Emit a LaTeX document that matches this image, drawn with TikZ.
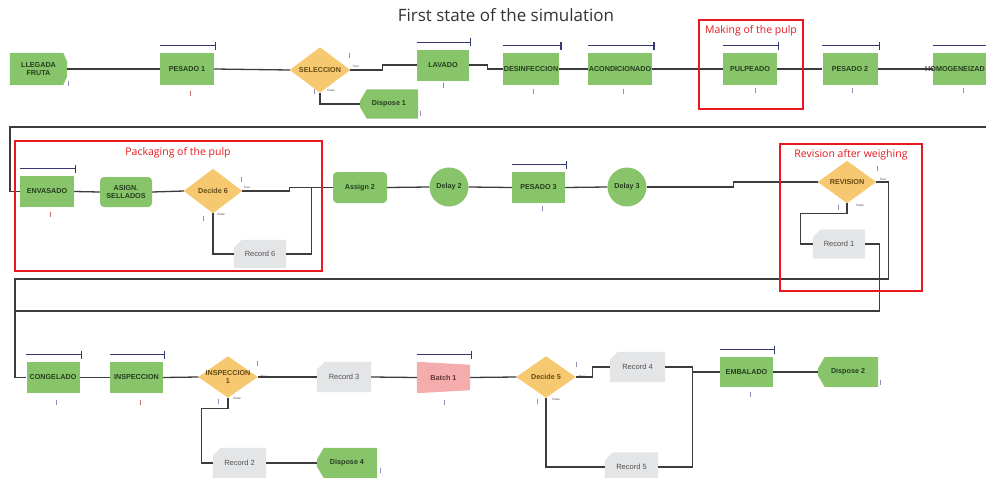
\documentclass[tikz,border=0pt]{standalone}
\usepackage{fontspec}
\setmainfont{Liberation Sans}
\newfontfamily\titlefont{Open Sans}
\usetikzlibrary{shapes.geometric,backgrounds,calc}
\definecolor{agreen}{RGB}{136,196,106}
\definecolor{gtext}{RGB}{36,62,30}
\definecolor{aorange}{RGB}{246,200,112}
\definecolor{otext}{RGB}{100,74,20}
\definecolor{agray}{RGB}{228,229,231}
\definecolor{rtext}{RGB}{80,80,80}
\definecolor{apink}{RGB}{245,172,172}
\definecolor{ptext}{RGB}{95,50,50}
\definecolor{cgray}{RGB}{60,60,62}
\definecolor{qnavy}{RGB}{52,56,112}
\definecolor{redc}{RGB}{230,25,30}
\definecolor{mkpurple}{RGB}{150,140,185}
\definecolor{mkred}{RGB}{200,110,110}
\newcommand\mkcreate[1]{\fill[agreen] (#1.north west) -- ([xshift=-4pt]#1.north east) -- ([yshift=-9pt]#1.north east) -- ([yshift=9pt]#1.south east) -- ([xshift=-4pt]#1.south east) -- (#1.south west) -- cycle;}
\newcommand\mkdispose[1]{\fill[agreen] ([xshift=7pt]#1.north west) -- (#1.north east) -- (#1.south east) -- ([xshift=7pt]#1.south west) -- ([yshift=12pt]#1.south west) -- ([yshift=-12pt]#1.north west) -- cycle;}
\newcommand\mkrecord[1]{\fill[agray] ([xshift=8pt]#1.north west) -- (#1.north east) -- (#1.south east) -- (#1.south west) -- ([yshift=-8pt]#1.north west) -- cycle;}
\newcommand\mkbatch[1]{\fill[apink] (#1.north west) -- ([yshift=-3pt]#1.north east) -- ([yshift=3pt]#1.south east) -- (#1.south west) -- cycle;}
\newcommand\mkdiamond[1]{\fill[aorange] (#1.north) -- (#1.east) -- (#1.south) -- (#1.west) -- cycle;}
\tikzset{
  base/.style={inner sep=1pt, font=\bfseries\fontsize{7.2}{8}\selectfont, align=center},
  rbase/.style={inner sep=1pt, font=\fontsize{7.5}{8}\selectfont, align=center},
  proc/.style={base, rectangle, fill=agreen, text=gtext, minimum width=53pt, minimum height=31pt},
  shell/.style={base, rectangle, minimum width=53pt, minimum height=31pt},
  recshell/.style={rbase, rectangle, text=rtext, minimum width=53pt, minimum height=30pt},
  assignbox/.style={base, rectangle, rounded corners=4pt, fill=agreen, text=gtext, minimum width=53pt, minimum height=31pt},
  delaybox/.style={base, circle, fill=agreen, text=gtext, minimum size=39pt, inner sep=0pt},
  decide/.style={base, rectangle, text=otext, minimum width=59pt, minimum height=43pt, inner sep=0pt},
  conn/.style={draw=cgray, line width=1.3pt},
  qline/.style={draw=qnavy, line width=1.2pt},
  redbox/.style={draw=redc, line width=1.6pt},
  redlabel/.style={font=\titlefont\fontsize{10.5}{12}\selectfont, text=redc, inner sep=0pt},
  tf/.style={font=\fontsize{3}{3}\selectfont, text=black!75, inner sep=0pt},
  mk/.style={draw=mkpurple, line width=0.7pt},
  mkr/.style={draw=mkred, line width=0.7pt}
}
\begin{document}
\begin{tikzpicture}[x=1pt,y=-1pt]
\useasboundingbox (0,0) rectangle (986,477);
\clip (0,0) rectangle (986,477);

\node[font=\titlefont\fontsize{17}{19}\selectfont, text=black!80] (title) at (506,15) {First state of the simulation};

% ---------- row 1 ----------
\node[shell, text=gtext, minimum width=57pt, minimum height=32pt] (arr) at (38.5,69) {LLEGADA\\FRUTA};
\node[proc, minimum width=54pt, minimum height=32pt] (p1) at (187,69) {PESADO 1};
\node[decide, minimum width=60pt, minimum height=45pt] (sel) at (320,70) {SELECCION};
\node[proc, minimum width=52pt] (lav) at (443,65) {LAVADO};
\node[shell, text=gtext, minimum width=58pt, minimum height=29pt] (d1) at (389,104) {Dispose 1};
\node[proc, minimum height=32pt] (des) at (531,69) {DESINFECCION};
\node[proc, minimum height=32pt] (aco) at (620,69) {ACONDICIONADO};
\node[proc, minimum width=54pt, minimum height=32pt] (pul) at (750,69) {PULPEADO};
\node[proc, minimum width=55pt, minimum height=32pt] (pe2) at (850,69) {PESADO 2};
\node[proc, minimum width=54pt, minimum height=32pt] (hom) at (960,69) {};
\node[base, text=gtext, anchor=east] (homt) at (986,69) {HOMOGENEIZAD};

% ---------- row 2 ----------
\node[proc, minimum width=54pt] (env) at (47,191.5) {ENVASADO};
\node[assignbox, minimum width=52pt, minimum height=30pt] (asg) at (126,192) {ASIGN.\\SELLADOS};
\node[decide, minimum width=58pt, minimum height=44pt] (dec6) at (213,191) {Decide 6};
\node[recshell, minimum width=52pt, minimum height=28pt] (rec6) at (260,254) {Record 6};
\node[assignbox, minimum width=54pt] (as2) at (360,187.5) {Assign 2};
\node[delaybox] (dl2) at (449,187) {Delay 2};
\node[proc] (pe3) at (538.5,187.5) {PESADO 3};
\node[delaybox] (dl3) at (627,187) {Delay 3};
\node[decide, minimum width=58pt, minimum height=42pt] (rev) at (847,182) {REVISION};
\node[recshell, minimum width=52pt, minimum height=29pt] (rec1) at (839,244) {Record 1};

% ---------- row 3 ----------
\node[proc] (cong) at (53,377.5) {CONGELADO};
\node[proc] (insp) at (136.5,377.5) {INSPECCION};
\node[decide, minimum height=41pt] (ins1) at (228,377) {INSPECCION\\1};
\node[recshell, minimum width=54pt] (rec3) at (344,377) {Record 3};
\node[shell, text=ptext] (bat) at (443.5,377.5) {Batch 1};
\node[decide, minimum height=41pt] (dec5) at (546,377) {Decide 5};
\node[recshell, minimum width=55pt] (rec4) at (637.5,367) {Record 4};
\node[recshell, minimum height=29pt] (rec5) at (631.5,467) {Record 5};
\node[proc, minimum height=30pt] (emb) at (746.5,372) {EMBALADO};
\node[shell, text=gtext, minimum width=60pt, minimum height=30pt] (d2) at (848,372) {Dispose 2};
\node[recshell] (rec2) at (239.5,463) {Record 2};
\node[shell, text=gtext, minimum width=60pt, minimum height=30pt] (d4) at (347,463) {Dispose 4};

% ---------- custom shapes ----------
\begin{scope}[on background layer]
\fill[white] (0,0) rectangle (986,477);
\mkcreate{arr}
\mkdispose{d1}
\mkdispose{d2}
\mkdispose{d4}
\mkrecord{rec6}
\mkrecord{rec1}
\mkrecord{rec3}
\mkrecord{rec4}
\mkrecord{rec5}
\mkrecord{rec2}
\mkbatch{bat}
\mkdiamond{sel}
\mkdiamond{dec6}
\mkdiamond{rev}
\mkdiamond{ins1}
\mkdiamond{dec5}
\end{scope}

% ---------- queue bars ----------
\foreach \n in {p1,lav,des,aco,pul,pe2,hom,env,pe3,cong,insp,bat,emb}
  \draw[qline] ([yshift=7pt]\n.north west) -- ([yshift=7pt,xshift=1.5pt]\n.north east) ++(0,-4) -- ++(0,8);

% ---------- connectors ----------
\coordinate (lp1) at (10,127);
\coordinate (lp2) at (15,279);
\coordinate (lp3) at (15,311);
\draw[conn] (arr.east) -- (p1.west);
\draw[conn] (p1.east) -- (sel.west);
\draw[conn] (sel.east) -- ++(32,0) |- (lav.west);
\draw[conn] (sel.south) |- (d1.west);
\draw[conn] (lav.east) -- ++(18,0) |- (des.west);
\draw[conn] (des.east) -- (aco.west);
\draw[conn] (aco.east) -- (pul.west);
\draw[conn] (pul.east) -- (pe2.west);
\draw[conn] (pe2.east) -- (hom.west);
\draw[conn] (hom.east) -- ++(10,0) |- (lp1) |- (env.west);

\draw[conn] (env.east) -- (asg.west);
\draw[conn] (asg.east) -- (dec6.west);
\draw[conn] (dec6.east) -- ++(47,0) |- (as2.west);
\draw[conn] (dec6.south) |- (rec6.west);
\draw[conn] (rec6.east) -- ++(25,0) |- (as2.west);
\draw[conn] (as2.east) -- (dl2.west);
\draw[conn] (dl2.east) -- (pe3.west);
\draw[conn] (pe3.east) -- (dl3.west);
\draw[conn] (dl3.east) -- ++(87,0) |- (rev.west);
\draw[conn] (rev.east) -- ++(12,0) |- (lp2) |- (cong.west);
\draw[conn] (rev.south) -- ++(0,10) -| ([xshift=-12pt]rec1.west) -- (rec1.west);
\draw[conn] (rec1.east) -- ++(14,0) |- (lp3) |- (cong.west);

\draw[conn] (cong.east) -- (insp.west);
\draw[conn] (insp.east) -- (ins1.west);
\draw[conn] (ins1.east) -- (rec3.west);
\draw[conn] (ins1.south) -- ++(0,11) -| ([xshift=-11pt]rec2.west) -- (rec2.west);
\draw[conn] (rec2.east) -- (d4.west);
\draw[conn] (rec3.east) -- (bat.west);
\draw[conn] (bat.east) -- (dec5.west);
\draw[conn] (dec5.east) -- ++(17,0) |- (rec4.west);
\draw[conn] (dec5.south) |- (rec5.west);
\draw[conn] (rec4.east) -- ++(27,0) |- (emb.west);
\draw[conn] (rec5.east) -- ++(34,0) |- (emb.west);
\draw[conn] (emb.east) -- (d2.west);

% ---------- True / False ----------
\node[tf] (t1) at (356,66) {True};
\node[tf] (f1) at (331,90) {False};
\node[tf] (t6) at (247,187) {True};
\node[tf] (f6) at (221,214) {False};
\node[tf] (tr) at (883,179) {True};
\node[tf] (fr) at (860,205) {False};
\node[tf] (ti) at (264,376) {True};
\node[tf] (fi) at (237,398) {False};
\node[tf] (t5) at (582,376) {True};
\node[tf] (f5) at (556,399) {False};

% ---------- small markers ----------
\foreach \x/\y in {68/83,349/55,314/91,420/113,533/91,623/91,755/90,852/90,963/90,241/179,203/218,542/208,877/168,838/207,56/402,257/363,218/401,444/402,576/364,537/401,750/394,880/382,380/470}
  \draw[mk] (\x,\y-2.5) -- (\x,\y+2.5);
\foreach \x/\y in {190/93,443/85,50/214,140/402}
  \draw[mkr] (\x,\y-2.5) -- (\x,\y+2.5);

% ---------- red frames ----------
\draw[redbox] (699,20) rectangle (803,109);
\node[redlabel] (lbl1) at (751,31) {Making of the pulp};
\draw[redbox] (15,141) rectangle (322,271);
\node[redlabel] (lbl2) at (178,153) {Packaging of the pulp};
\draw[redbox] (780,144) rectangle (922,291);
\node[redlabel] (lbl3) at (851,155) {Revision after weighing};
\end{tikzpicture}
\end{document}
